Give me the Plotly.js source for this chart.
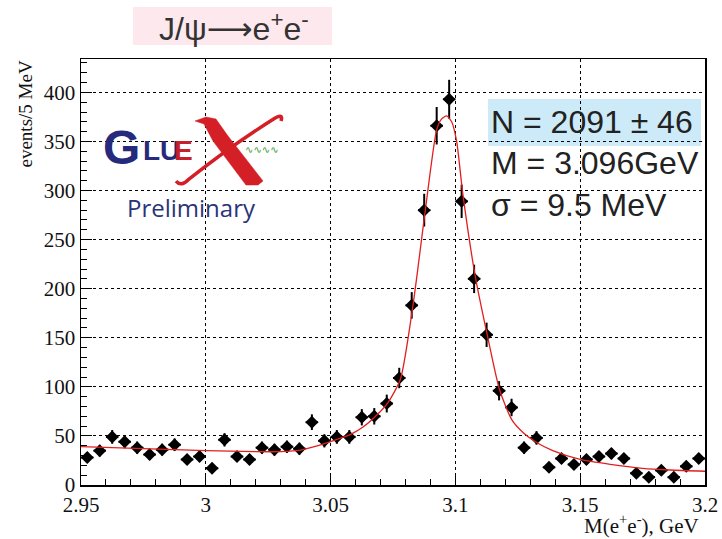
<!DOCTYPE html>
<html>
<head>
<meta charset="utf-8">
<script src="https://cdn.plot.ly/plotly-3.0.1.min.js"></script>
<style>html,body{margin:0;padding:0;background:#fff;}#chart{width:722px;height:539px;}</style>
</head>
<body>
<div id="chart"></div>
<script>
// Bin centres (GeV), 5 MeV bins from 2.95 to 3.20
const binCenters = [2.9525,2.9575,2.9625,2.9675,2.9725,2.9775,2.9825,2.9875,2.9925,2.9975,
  3.0025,3.0075,3.0125,3.0175,3.0225,3.0275,3.0325,3.0375,3.0425,3.0475,
  3.0525,3.0575,3.0625,3.0675,3.0725,3.0775,3.0825,3.0875,3.0925,3.0975,
  3.1025,3.1075,3.1125,3.1175,3.1225,3.1275,3.1325,3.1375,3.1425,3.1475,
  3.1525,3.1575,3.1625,3.1675,3.1725,3.1775,3.1825,3.1875,3.1925,3.1975];
// Events per bin
const counts = [28,35,49,44,38,31,36,41,26,29,
  17,46,29,26,38,36,39,37,64,45,
  49,49,69,70,83,109,183,280,366,393,
  289,210,153,96,79,38,48,18,27,21,
  26,29,32,27,12,8,15,8,19,27];
// Statistical errors per bin
const errors = [5.3,5.9,7.0,6.6,6.2,5.6,6.0,6.4,5.1,5.4,
  4.1,6.8,5.4,5.1,6.2,6.0,6.2,6.1,8.0,6.7,
  7.0,7.0,8.3,8.4,9.1,10.4,13.5,16.7,19.1,19.8,
  17.0,14.5,12.4,9.8,8.9,6.2,6.9,4.2,5.2,4.6,
  5.1,5.4,5.7,5.2,3.5,2.8,3.9,2.8,4.4,5.2];
// Fit curve
const fitMass = [2.95,2.975,3.0,3.02,3.03,3.038,3.045,3.052,3.058,3.063,3.068,3.073,3.078,3.083,3.088,
  3.0925,3.0945,3.0965,3.0985,3.1005,3.103,3.108,3.113,3.1177,3.1227,3.1273,3.1327,3.139,3.15,3.162,3.175,3.186,3.2];
const fitValues = [39,37,35,34,34,35.5,40,46,51.5,59,70,84,108,183,281,
  362,373,376,370,350,296,212,150,97,66,53,43,35,26,21,17,15.3,14];
const xTickVals = [2.95,3.0,3.05,3.1,3.15,3.2];
const xTickText = ['2.95','3','3.05','3.1','3.15','3.2'];
const yTickVals = [0,50,100,150,200,250,300,350,400];

const L=81, R=705, T=59, B=485;
const px = x => (x-L)/(R-L);
const py = y => (B-y)/(B-T);
const P = (x, y) => px(x).toFixed(4) + ',' + py(y).toFixed(4);

// Logo "X" drawn as decoration (pixel geometry converted to paper space)
const xThick = 'M' + P(195,121) + ' L' + P(206,117) + ' L' + P(216,119) + ' L' + P(228,136) +
  ' L' + P(263,181) + ' L' + P(258,185) + ' L' + P(246,185) + ' L' + P(213,141) + ' L' + P(204,124) + ' Z';
const xThin = 'M' + P(281,121) + ' Q' + P(284,112) + ' ' + P(272,120) +
  ' Q' + P(228,148) + ' ' + P(188,180) + ' Q' + P(181,187) + ' ' + P(176,181);

const data = [
  {
    x: binCenters, y: counts, type: 'scatter', mode: 'markers',
    marker: {symbol: 'diamond', size: 10, color: '#000'},
    error_y: {type: 'data', array: errors, visible: true, color: '#000', thickness: 2, width: 0},
    error_x: {type: 'constant', value: 0.0025, visible: true, color: '#000', thickness: 2, width: 0},
    hoverinfo: 'x+y'
  },
  {
    x: fitMass, y: fitValues, type: 'scatter', mode: 'lines',
    line: {color: '#e0201e', width: 1.3, shape: 'spline', smoothing: 0.6},
    hoverinfo: 'skip'
  }
];

const serif = 'Liberation Serif, Times New Roman, serif';
const sans = 'Liberation Sans, Arial, sans-serif';

const layout = {
  width: 722, height: 539,
  margin: {l: L, r: 722-R, t: T, b: 539-B, pad: 0},
  paper_bgcolor: '#fff', plot_bgcolor: 'rgba(0,0,0,0)',
  showlegend: false,
  xaxis: {
    range: [2.95, 3.2], tickvals: xTickVals, ticktext: xTickText,
    ticks: 'inside', ticklen: 11, tickwidth: 1, tickcolor: '#000',
    showline: true, linecolor: '#000', linewidth: 1.5, mirror: true,
    showgrid: true, gridcolor: '#000', griddash: 'dot', gridwidth: 1,
    zeroline: false,
    minor: {dtick: 0.01, tick0: 2.95, ticks: 'inside', ticklen: 6, tickcolor: '#000', showgrid: false},
    tickfont: {family: serif, size: 21, color: '#111'}
  },
  yaxis: {
    range: [0, 434], tickvals: yTickVals,
    ticks: 'inside', ticklen: 11, tickwidth: 1, tickcolor: '#000',
    showline: true, linecolor: '#000', linewidth: 1.5, mirror: true,
    showgrid: true, gridcolor: '#000', griddash: 'dot', gridwidth: 1,
    zeroline: false,
    minor: {dtick: 10, tick0: 0, ticks: 'inside', ticklen: 6, tickcolor: '#000', showgrid: false},
    tickfont: {family: serif, size: 21, color: '#111'}
  },
  shapes: [
    {type: 'rect', xref: 'paper', yref: 'paper', layer: 'below',
     x0: px(133), x1: px(332), y0: py(45), y1: py(7), fillcolor: '#fde8ee', line: {width: 0}},
    {type: 'rect', xref: 'paper', yref: 'paper', layer: 'below',
     x0: px(488), x1: px(701), y0: py(146), y1: py(99), fillcolor: '#cdeaf8', line: {width: 0}},
    {type: 'path', xref: 'paper', yref: 'paper', layer: 'above', path: xThick,
     fillcolor: '#d41f26', line: {width: 0.5, color: '#d41f26'}},
    {type: 'path', xref: 'paper', yref: 'paper', layer: 'above', path: xThin,
     fillcolor: 'rgba(0,0,0,0)', line: {width: 3.5, color: '#d41f26'}}
  ],
  annotations: [
    {text: "J/ψ<span style='font-family:DejaVu Sans'>⟶</span>e<sup>+</sup>e<sup>-</sup>", xref: 'paper', yref: 'paper', x: px(234), y: py(27),
     xanchor: 'center', yanchor: 'middle', showarrow: false, font: {family: sans, size: 32, color: '#333'}},
    {text: 'events/5 MeV', xref: 'paper', yref: 'paper', x: px(25), y: py(59), textangle: -90,
     xanchor: 'center', yanchor: 'top', showarrow: false, font: {family: serif, size: 19, color: '#111'}},
    {text: 'M(e<sup>+</sup>e<sup>-</sup>), GeV', xref: 'paper', yref: 'paper', x: px(701), y: py(524),
     xanchor: 'right', yanchor: 'middle', showarrow: false, font: {family: serif, size: 21, color: '#111'}},
    {text: 'N = 2091 ± 46', xref: 'paper', yref: 'paper', x: px(489), y: py(122),
     xanchor: 'left', yanchor: 'middle', showarrow: false, font: {family: sans, size: 32, color: '#222'}},
    {text: 'M = 3.096GeV', xref: 'paper', yref: 'paper', x: px(489), y: py(163),
     xanchor: 'left', yanchor: 'middle', showarrow: false, font: {family: sans, size: 32, color: '#222'}},
    {text: 'σ = 9.5 MeV', xref: 'paper', yref: 'paper', x: px(489), y: py(205),
     xanchor: 'left', yanchor: 'middle', showarrow: false, font: {family: sans, size: 32, color: '#222'}},
    // GlueX logo
    {text: '<b>G</b>', xref: 'paper', yref: 'paper', x: px(121), y: py(147),
     xanchor: 'center', yanchor: 'middle', showarrow: false, font: {family: sans, size: 48, color: '#262a7c'}},
    {text: '<b>LU</b>', xref: 'paper', yref: 'paper', x: px(141), y: py(150),
     xanchor: 'left', yanchor: 'middle', showarrow: false, font: {family: sans, size: 28, color: '#262a7c'}},
    {text: '<b>E</b>', xref: 'paper', yref: 'paper', x: px(172), y: py(150),
     xanchor: 'left', yanchor: 'middle', showarrow: false, font: {family: sans, size: 28, color: '#c8202a'}},
    {text: '∿∿∿∿', xref: 'paper', yref: 'paper', x: px(262), y: py(149),
     xanchor: 'center', yanchor: 'middle', showarrow: false, font: {family: 'DejaVu Sans, sans-serif', size: 10, color: '#3a9a30'}},
    {text: 'Preliminary', xref: 'paper', yref: 'paper', x: px(191), y: py(207),
     xanchor: 'center', yanchor: 'middle', showarrow: false, font: {family: 'Open Sans, sans-serif', size: 24, color: '#2a3478'}}
  ]
};

Plotly.newPlot('chart', data, layout, {displayModeBar: false, staticPlot: true});
</script>
</body>
</html>
